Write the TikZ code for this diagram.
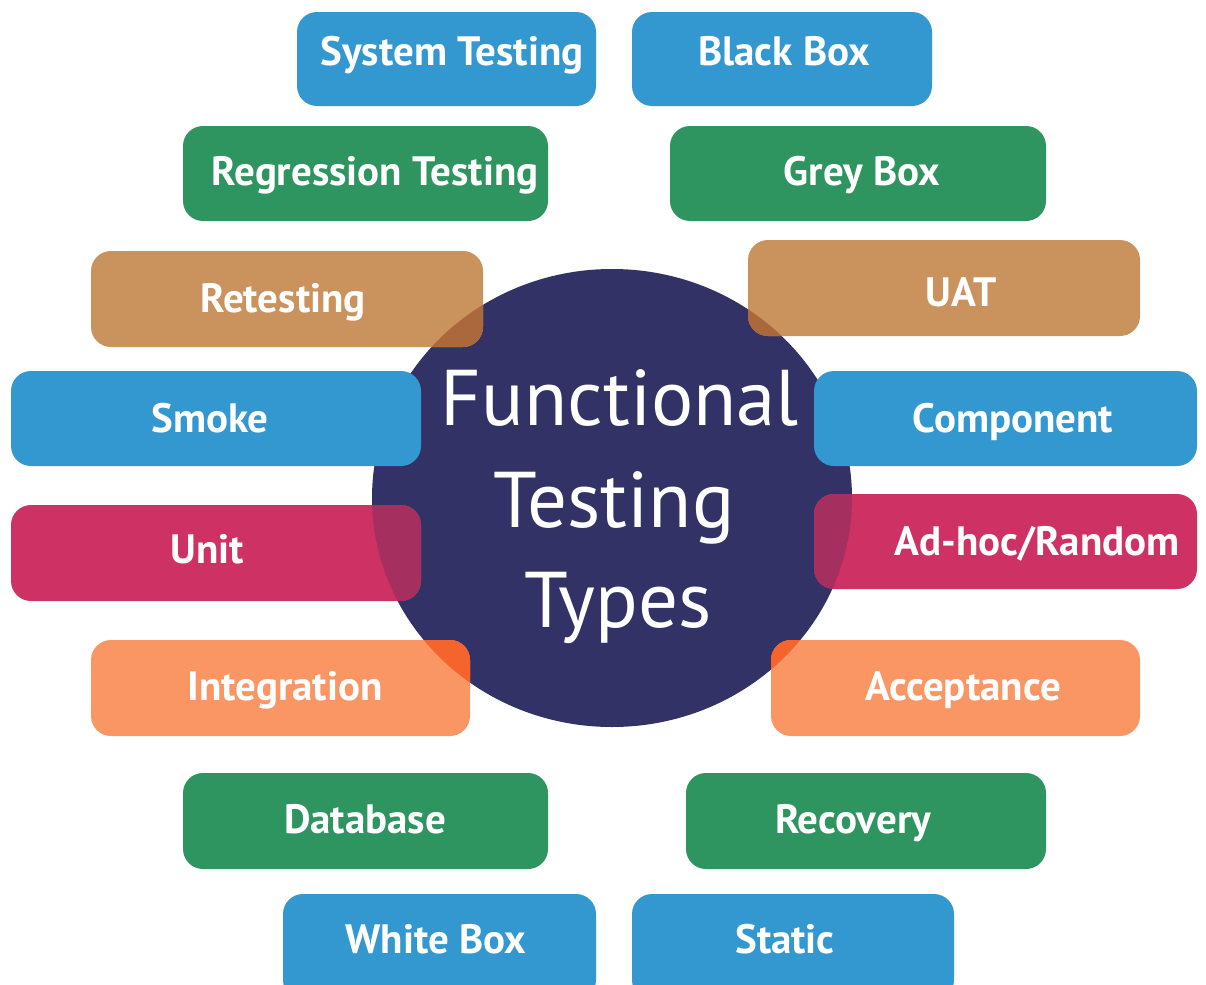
\documentclass[tikz,border=0pt]{standalone}
\usepackage{fontspec}
\setmainfont{PT Sans}
\definecolor{ftnavy}{RGB}{50,50,102}
\definecolor{ftblue}{RGB}{52,152,208}
\definecolor{ftgreen}{RGB}{46,148,96}
\definecolor{fttan}{RGB}{202,146,93}
\definecolor{ftpink}{RGB}{206,50,100}
\definecolor{ftorange}{RGB}{250,150,100}
\definecolor{fttandark}{RGB}{170,104,60}
\definecolor{ftpinkdark}{RGB}{165,48,95}
\definecolor{ftorangedark}{RGB}{245,100,45}
\begin{document}
\begin{tikzpicture}[x=0.5pt, y=-0.5pt,
	boxlabel/.style={text=white, font=\bfseries\fontsize{20.5}{24}\selectfont, inner sep=0pt, anchor=base},
	titlelabel/.style={text=white, font=\fontsize{39.5}{42}\selectfont, inner sep=0pt, anchor=base},
	tile/.style={rounded corners=10pt}]
	\useasboundingbox (0,0) rectangle (1206,985);
	% centre disc
	\fill[ftnavy] (612,498) ellipse [x radius=240, y radius=229];
	% tiles
	\foreach \xa/\ya/\xb/\yb/\c in {297/12/596/106/ftblue, 632/12/932/106/ftblue,
		183/126/548/221/ftgreen, 670/126/1046/221/ftgreen,
		91/251/483/347/fttan, 748/240/1140/336/fttan,
		11/371/421/466/ftblue, 814/371/1197/466/ftblue,
		11/505/421/601/ftpink, 814/494/1197/589/ftpink,
		91/640/470/736/ftorange, 771/640/1140/736/ftorange,
		183/773/548/869/ftgreen, 686/773/1046/869/ftgreen,
		283/894/596/1000/ftblue, 632/894/954/1000/ftblue}
	\fill[tile, \c] (\xa,\ya) rectangle (\xb,\yb);
	% overlap with the disc
	\begin{scope}
		\clip (612,498) ellipse [x radius=240, y radius=229];
		\fill[tile, fttandark] (91,251) rectangle (483,347);
		\fill[tile, fttandark] (748,240) rectangle (1140,336);
		\fill[tile, ftpinkdark] (11,505) rectangle (421,601);
		\fill[tile, ftpinkdark] (814,494) rectangle (1197,589);
		\fill[tile, ftorangedark] (91,640) rectangle (470,736);
		\fill[tile, ftorangedark] (771,640) rectangle (1140,736);
	\end{scope}
	% labels
	\node[boxlabel] (systest) at (452,65) {System Testing};
	\node[boxlabel] (blackbox) at (784,65) {Black Box};
	\node[boxlabel] (regress) at (375,185) {Regression Testing};
	\node[boxlabel] (greybox) at (862,185) {Grey Box};
	\node[boxlabel] (retest) at (283,312) {Retesting};
	\node[boxlabel] (uat) at (961,306) {UAT};
	\node[boxlabel] (smoke) at (210,432) {Smoke};
	\node[boxlabel] (component) at (1013,432) {Component};
	\node[boxlabel] (unit) at (207,563) {Unit};
	\node[boxlabel] (adhoc) at (1037,555) {Ad-hoc/Random};
	\node[boxlabel] (integ) at (285,700) {Integration};
	\node[boxlabel] (accept) at (963,700) {Acceptance};
	\node[boxlabel] (database) at (365,833) {Database};
	\node[boxlabel] (recovery) at (853,833) {Recovery};
	\node[boxlabel] (whitebox) at (436,953) {White Box};
	\node[boxlabel] (static) at (785,953) {Static};
	% title
	\node[titlelabel] (functional) at (620,425) {Functional};
	\node[titlelabel] (testing) at (614,527) {Testing};
	\node[titlelabel] (types) at (618,627) {Types};
\end{tikzpicture}
\end{document}
